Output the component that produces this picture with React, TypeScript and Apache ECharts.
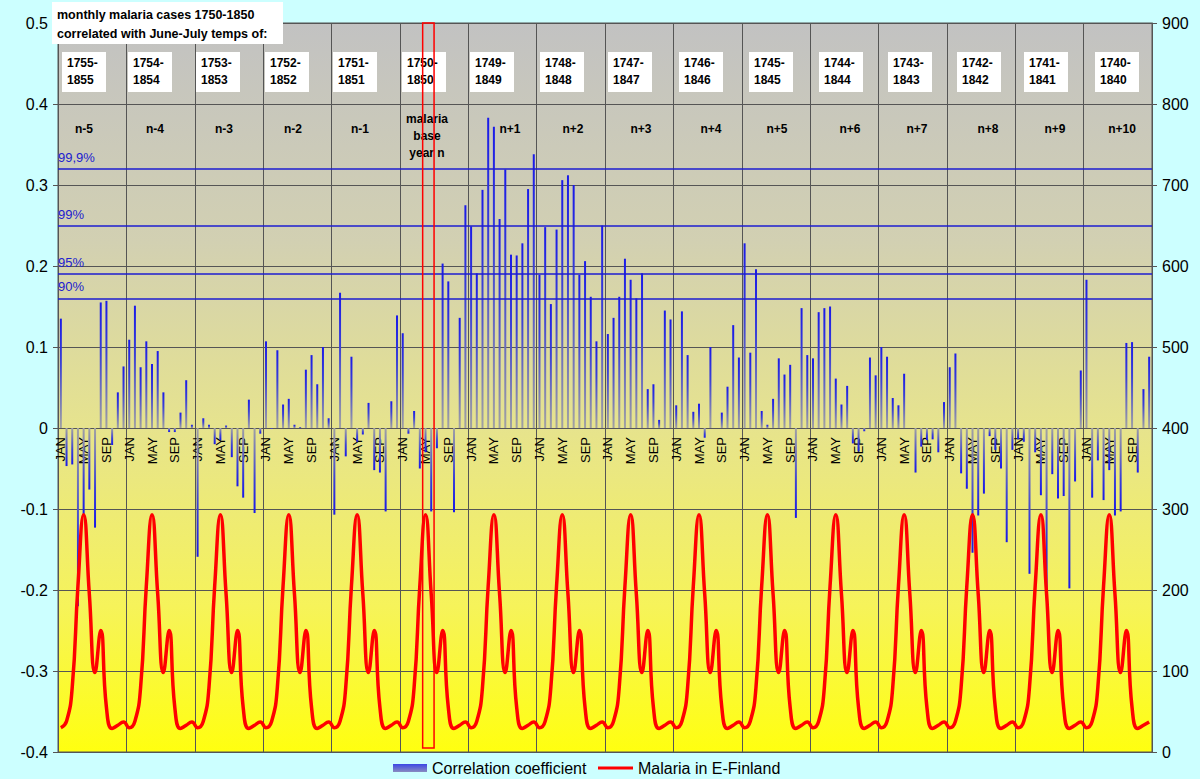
import React, { useEffect, useRef } from "react";
import * as echarts from "echarts";

// ---------- data ----------
const months = ["JAN", "FEB", "MAR", "APR", "MAY", "JUN", "JUL", "AUG", "SEP", "OCT", "NOV", "DEC"];
const lagLabels = ["n-5", "n-4", "n-3", "n-2", "n-1", "malaria\nbase\nyear n", "n+1", "n+2", "n+3", "n+4", "n+5", "n+6", "n+7", "n+8", "n+9", "n+10"];
const periodLabels = [
  "1755-\n1855", "1754-\n1854", "1753-\n1853", "1752-\n1852", "1751-\n1851", "1750-\n1850",
  "1749-\n1849", "1748-\n1848", "1747-\n1847", "1746-\n1846", "1745-\n1845", "1744-\n1844",
  "1743-\n1843", "1742-\n1842", "1741-\n1841", "1740-\n1840",
];

// monthly correlation coefficients, one array per lag year (JAN..DEC)
const corrNm5 = [0.135, -0.047, -0.045, -0.22, -0.107, -0.076, -0.123, 0.155, 0.157, -0.021, 0.044, 0.076];
const corrNm4 = [0.109, 0.151, 0.075, 0.107, 0.079, 0.095, 0.044, -0.005, -0.005, 0.019, 0.059, 0.004];
const corrNm3 = [-0.159, 0.012, 0.004, -0.02, -0.015, 0.003, -0.036, -0.072, -0.086, 0.035, -0.105, -0.007];
const corrNm2 = [0.107, -0.001, 0.096, 0.029, 0.036, 0.004, 0.001, 0.072, 0.09, 0.054, 0.1, 0.012];
const corrNm1 = [-0.107, 0.167, -0.035, 0.088, -0.017, -0.008, 0.031, -0.052, -0.055, -0.103, 0.033, 0.139];
const corrN0 = [0.117, -0.007, 0.021, -0.05, -0.03, -0.103, -0.025, 0.203, 0.181, -0.104, 0.136, 0.275];
const corrNp1 = [0.249, 0.191, 0.294, 0.383, 0.372, 0.258, 0.319, 0.214, 0.213, 0.228, 0.295, 0.338];
const corrNp2 = [0.189, 0.248, 0.153, 0.245, 0.306, 0.312, 0.3, 0.189, 0.206, 0.162, 0.107, 0.25];
const corrNp3 = [0.116, 0.136, 0.162, 0.209, 0.183, 0.16, 0.191, 0.048, 0.054, 0.01, 0.145, 0.134];
const corrNp4 = [0.028, 0.144, 0.09, 0.02, 0.03, -0.012, 0.1, 0.0, 0.019, 0.051, 0.127, 0.087];
const corrNp5 = [0.228, 0.093, 0.196, 0.021, 0.004, 0.036, 0.086, 0.066, 0.078, -0.111, 0.148, 0.09];
const corrNp6 = [0.086, 0.143, 0.148, 0.15, 0.061, 0.029, 0.052, -0.019, -0.029, -0.004, 0.087, 0.065];
const corrNp7 = [0.1, 0.088, 0.037, 0.028, 0.067, 0.0, -0.055, -0.023, -0.015, -0.014, -0.03, 0.032];
const corrNp8 = [0.075, 0.092, -0.056, -0.075, -0.154, -0.108, -0.081, -0.01, -0.027, -0.05, -0.141, -0.027];
const corrNp9 = [-0.014, -0.017, -0.18, -0.03, -0.083, -0.2, -0.057, -0.087, -0.084, -0.198, -0.066, 0.071];
const corrNp10 = [0.183, -0.086, -0.04, -0.089, -0.052, -0.108, -0.103, 0.105, 0.106, -0.055, 0.048, 0.088];

// average monthly malaria cases in E-Finland (JAN..DEC), same seasonal curve each year
const malariaMonthly = [30, 38, 80, 205, 293, 195, 98, 150, 55, 29, 33, 37];

// significance levels of the correlation coefficient
const sigLevels = [
  { name: "99,9%", value: 0.3198 },
  { name: "99%", value: 0.2515 },
  { name: "95%", value: 0.193 },
  { name: "90%", value: 0.1613 },
];

// ---------- layout ----------
const W = 1200;
const H = 779;
const GRID = { left: 58, right: 48, top: 23, bottom: 27 };
const FONT = "'Liberation Sans', Arial, Helvetica, sans-serif";
const boxLefts = [62, 128, 196, 265, 333, 402, 470, 540, 608, 679, 749, 819, 888, 957, 1024, 1095];
const lagCenters = [84, 155, 224, 293, 360, 427, 510, 573, 641, 711, 777, 850, 917, 988, 1055, 1122];

export default function App() {
  const ref = useRef<HTMLDivElement>(null);

  useEffect(() => {
    document.body.style.margin = "0";
    if (!ref.current) return;
    const chart = echarts.init(ref.current, null, { renderer: "svg" });

    const corrByYear = [corrNm5, corrNm4, corrNm3, corrNm2, corrNm1, corrN0, corrNp1, corrNp2, corrNp3, corrNp4, corrNp5, corrNp6, corrNp7, corrNp8, corrNp9, corrNp10];
    const correlation = corrByYear.flat();
    const categories = corrByYear.flatMap(() => months);
    const malaria = corrByYear.flatMap(() => malariaMonthly);

    const yMin = -0.4;
    const yMax = 0.5;

    const blue = "#1a1ae8";
    const gray = "#a2a2a2";
    const posGrad = new echarts.graphic.LinearGradient(0, 0, 0, 1, [
      { offset: 0, color: blue },
      { offset: 0.4, color: "#3a40d6" },
      { offset: 1, color: gray },
    ]);
    const negGrad = new echarts.graphic.LinearGradient(0, 0, 0, 1, [
      { offset: 0, color: gray },
      { offset: 0.6, color: "#3a40d6" },
      { offset: 1, color: blue },
    ]);
    const legendGrad = new echarts.graphic.LinearGradient(0, 0, 0, 1, [
      { offset: 0, color: "#3a48e6" },
      { offset: 1, color: "#8a8cc0" },
    ]);

    const barData = correlation.map((v) => ({
      value: v,
      itemStyle: { color: v >= 0 ? posGrad : negGrad },
    }));

    const plotW = W - GRID.left - GRID.right;
    const plotH = H - GRID.top - GRID.bottom;
    const monthW = plotW / correlation.length;
    const baseIdx = 5 * 12 + 4; // May of base year
    const zeroOffset = (plotH * (0 - yMin)) / (yMax - yMin);

    const graphics: any[] = [];
    graphics.push({
      type: "rect",
      shape: { x: 52, y: 2, width: 231, height: 42 },
      style: { fill: "#ffffff" },
      z: 100,
    });
    graphics.push({
      type: "text",
      x: 57,
      y: 5,
      style: {
        text: "monthly malaria cases 1750-1850\ncorrelated with June-July temps of:",
        font: `bold 12.5px ${FONT}`,
        fill: "#000",
        lineHeight: 19,
      },
      z: 101,
    });
    periodLabels.forEach((t, i) => {
      graphics.push({
        type: "rect",
        shape: { x: boxLefts[i], y: 52, width: 44, height: 40 },
        style: { fill: "#ffffff" },
        z: 100,
      });
      graphics.push({
        type: "text",
        x: boxLefts[i] + 5,
        y: 54,
        style: { text: t, font: `bold 12px ${FONT}`, fill: "#000", lineHeight: 17 },
        z: 101,
      });
    });
    lagLabels.forEach((t, i) => {
      const multi = t.indexOf("\n") >= 0;
      graphics.push({
        type: "text",
        x: lagCenters[i],
        y: multi ? 136 : 129,
        style: {
          text: t,
          font: `bold 12px ${FONT}`,
          fill: "#000",
          align: "center",
          verticalAlign: "middle",
          lineHeight: 17,
        },
        z: 101,
      });
    });
    graphics.push({
      type: "rect",
      shape: { x: GRID.left + baseIdx * monthW, y: GRID.top, width: 2 * monthW, height: plotH - 4 },
      style: { fill: "none", stroke: "#ff0000", lineWidth: 1.5 },
      z: 120,
    });

    const legendText = { fontSize: 16, color: "#000", fontFamily: FONT };

    const option: any = {
      animation: false,
      backgroundColor: "#ccffff",
      textStyle: { fontFamily: FONT },
      grid: {
        ...GRID,
        show: true,
        borderColor: "#555",
        borderWidth: 1,
        backgroundColor: {
          type: "linear",
          x: 0,
          y: 0,
          x2: 0,
          y2: 1,
          colorStops: [
            { offset: 0, color: "#c2c2c2" },
            { offset: 0.3, color: "#d2d0b2" },
            { offset: 0.55, color: "#e6e38e" },
            { offset: 0.8, color: "#f6f35a" },
            { offset: 1, color: "#ffff10" },
          ],
        },
      },
      legend: [
        {
          left: 393,
          top: 760,
          padding: 0,
          itemWidth: 34,
          itemHeight: 8,
          itemGap: 6,
          textStyle: legendText,
          data: [{ name: "Correlation coefficient", icon: "rect", itemStyle: { color: legendGrad } }],
        },
        {
          left: 598,
          top: 760,
          padding: 0,
          itemWidth: 35,
          itemHeight: 3,
          textStyle: legendText,
          data: [{ name: "Malaria in E-Finland", icon: "rect" }],
        },
      ],
      xAxis: {
        type: "category",
        data: categories,
        boundaryGap: true,
        position: "bottom",
        offset: -zeroOffset,
        axisLine: { show: true, onZero: false, lineStyle: { color: "#555", width: 1 } },
        axisTick: { show: false },
        axisLabel: {
          interval: 3,
          rotate: 90,
          fontSize: 13,
          color: "#000",
          margin: 9,
          fontFamily: FONT,
        },
        splitLine: { show: true, interval: 11, lineStyle: { color: "#555", width: 1 } },
      },
      yAxis: [
        {
          type: "value",
          min: yMin,
          max: yMax,
          interval: 0.1,
          axisLine: { show: true, lineStyle: { color: "#555" } },
          axisTick: { show: true, length: 5, lineStyle: { color: "#555" } },
          axisLabel: { fontSize: 16, color: "#000", margin: 10, fontFamily: FONT },
          splitLine: { show: true, lineStyle: { color: "#555", width: 1 } },
        },
        {
          type: "value",
          min: 0,
          max: 900,
          interval: 100,
          position: "right",
          axisLine: { show: true, lineStyle: { color: "#555" } },
          axisTick: { show: true, length: 5, lineStyle: { color: "#555" } },
          axisLabel: { fontSize: 16, color: "#000", margin: 10, fontFamily: FONT },
          splitLine: { show: false },
        },
      ],
      series: [
        {
          name: "Correlation coefficient",
          type: "bar",
          yAxisIndex: 0,
          barWidth: 2,
          itemStyle: { color: posGrad },
          data: barData,
          z: 2,
          markLine: {
            silent: true,
            symbol: "none",
            lineStyle: { color: "#1c1cd0", width: 1.5, type: "solid" },
            label: {
              position: "insideStartTop",
              formatter: "{b}",
              color: "#2020d0",
              fontSize: 13,
              fontFamily: FONT,
              distance: [0, 5],
            },
            data: sigLevels.map((s) => ({ name: s.name, yAxis: s.value })),
          },
        },
        {
          name: "Malaria in E-Finland",
          type: "line",
          yAxisIndex: 1,
          data: malaria,
          smooth: true,
          symbol: "none",
          lineStyle: { color: "#ff0000", width: 3.5 },
          itemStyle: { color: "#ff0000" },
          z: 5,
        },
      ],
      graphic: graphics,
    };

    chart.setOption(option);
    return () => chart.dispose();
  }, []);

  return <div ref={ref} style={{ width: W, height: H }} />;
}
